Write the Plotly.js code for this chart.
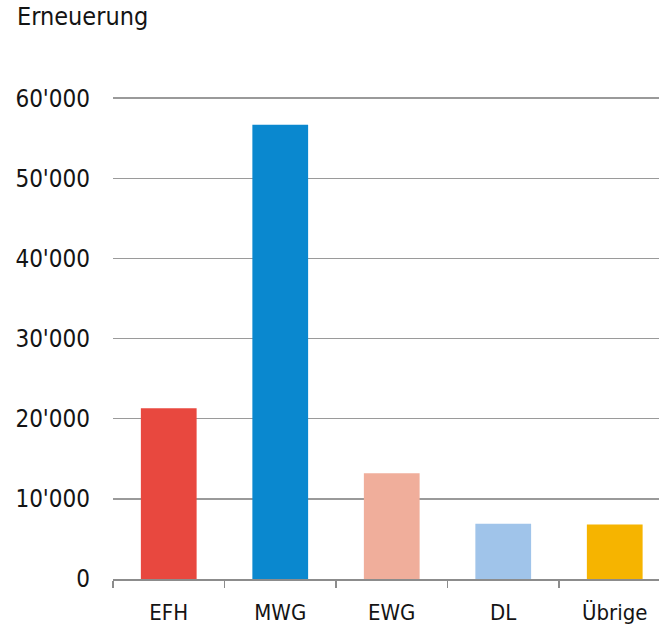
<!DOCTYPE html>
<html>
<head>
<meta charset="utf-8">
<script src="https://cdn.plot.ly/plotly-3.0.1.min.js"></script>
<style>html,body{margin:0;padding:0;background:#fff;}#chart{width:659px;height:628px;}</style>
</head>
<body>
<div id="chart"></div>
<script>
const categories = ["EFH", "MWG", "EWG", "DL", "Übrige"];
const values = [21300, 56700, 13200, 6900, 6800];
const barColors = ["#E8483F", "#0A88CF", "#F0AE9B", "#A0C4EA", "#F6B400"];
const yTickValues = [0, 10000, 20000, 30000, 40000, 50000, 60000];
const yTickLabels = ["0", "10'000", "20'000", "30'000", "40'000", "50'000", "60'000"];
const chartTitle = "Erneuerung";

const FONT = "'DejaVu Sans Condensed', 'DejaVu Sans', sans-serif";

const trace = {
  type: "bar",
  x: categories,
  y: values,
  marker: {color: barColors, line: {width: 0}},
  hoverinfo: "none"
};

const layout = {
  width: 659,
  height: 628,
  margin: {l: 113, r: 0, t: 95, b: 49},
  paper_bgcolor: "#fff",
  plot_bgcolor: "#fff",
  showlegend: false,
  bargap: 0.5,
  font: {family: FONT, color: "#141414"},
  title: {
    text: chartTitle,
    font: {family: FONT, size: 25, color: "#141414"},
    x: 17 / 659,
    xref: "container",
    xanchor: "left",
    y: 1 - 7 / 628,
    yref: "container",
    yanchor: "top",
    pad: {t: 0, b: 0, l: 0, r: 0}
  },
  xaxis: {
    type: "category",
    range: [-0.5, 4.397],
    showgrid: false,
    zeroline: false,
    showline: true,
    linecolor: "#8c8c8c",
    linewidth: 1.5,
    ticks: "outside",
    tickson: "boundaries",
    ticklen: 7,
    tickwidth: 1.5,
    tickcolor: "#8c8c8c",
    tickfont: {family: FONT, size: 22, color: "#141414"},
    ticklabelstandoff: 13,
    fixedrange: true
  },
  yaxis: {
    range: [0, 60400],
    tickvals: yTickValues,
    ticktext: yTickLabels,
    showgrid: true,
    gridcolor: "#9a9a9a",
    gridwidth: 1.5,
    zeroline: false,
    showline: false,
    ticks: "",
    tickfont: {family: FONT, size: 24, color: "#141414"},
    ticklabelstandoff: 22,
    fixedrange: true
  }
};

Plotly.newPlot("chart", [trace], layout, {displayModeBar: false, staticPlot: true});
</script>
</body>
</html>
